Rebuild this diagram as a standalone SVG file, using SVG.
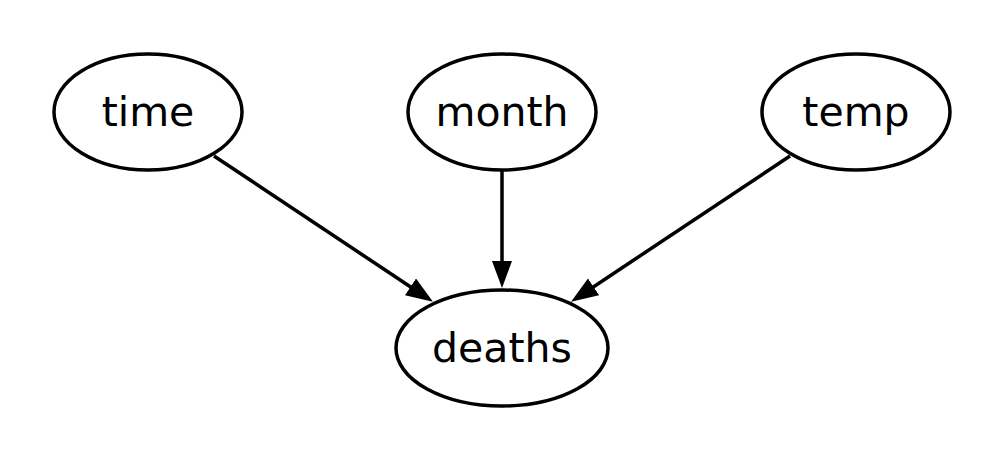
<svg xmlns="http://www.w3.org/2000/svg" width="1004" height="461" viewBox="0 0 1004 461">
<style>
.node ellipse{fill:#fff;stroke:#000;stroke-width:3.5}
.node text{font-family:"DejaVu Sans",sans-serif;font-size:41px;fill:#000;text-anchor:middle}
.edge{stroke:#000;stroke-width:3.5;fill:none;marker-end:url(#ah)}
</style>
<defs>
<marker id="ah" markerUnits="userSpaceOnUse" markerWidth="30" markerHeight="22" refX="7" refY="10" orient="auto" viewBox="0 0 30 22">
<path d="M0,0 L27,10 L0,20 z" fill="#000"/>
</marker>
</defs>
<rect width="1004" height="461" fill="#fff"/>
<g id="connectors">
<line class="edge" x1="214" y1="156" x2="416.3" y2="290.7"/>
<line class="edge" x1="502" y1="171" x2="502" y2="268"/>
<line class="edge" x1="790" y1="156" x2="587.7" y2="290.7"/>
</g>
<g id="time" class="node"><ellipse cx="148" cy="112" rx="94" ry="58"/><text x="148" y="126">time</text></g>
<g id="month" class="node"><ellipse cx="502" cy="112" rx="94" ry="58"/><text x="502" y="126">month</text></g>
<g id="temp" class="node"><ellipse cx="856" cy="112" rx="94" ry="58"/><text x="856" y="126">temp</text></g>
<g id="deaths" class="node"><ellipse cx="502" cy="348" rx="106" ry="58"/><text x="502" y="362">deaths</text></g>
</svg>
